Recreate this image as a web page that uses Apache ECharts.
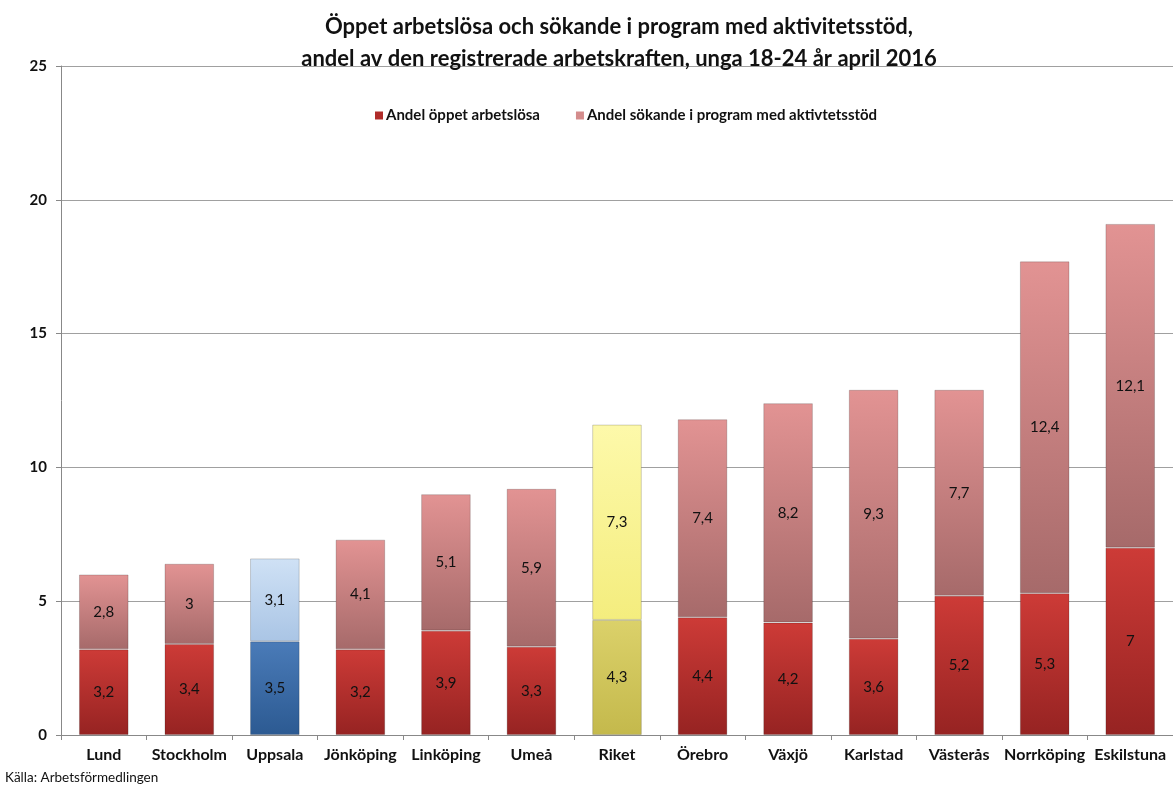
<!DOCTYPE html>
<html><head><meta charset="utf-8">
<script src="https://cdn.jsdelivr.net/npm/echarts@6/dist/echarts.min.js"></script>
<style>html,body{margin:0;padding:0;background:#fff}#c{width:1173px;height:789px}</style>
</head><body><div id="c"></div>
<script>
const categories = ['Lund','Stockholm','Uppsala','Jönköping','Linköping','Umeå','Riket','Örebro','Växjö','Karlstad','Västerås','Norrköping','Eskilstuna'];
const oppetArbetslosa = [3.2,3.4,3.5,3.2,3.9,3.3,4.3,4.4,4.2,3.6,5.2,5.3,7];
const sokandeProgram = [2.8,3,3.1,4.1,5.1,5.9,7.3,7.4,8.2,9.3,7.7,12.4,12.1];
const yTicks = [0,5,10,15,20,25];
const seriesNames = ['Andel öppet arbetslösa','Andel sökande i program med aktivtetsstöd'];
const titleLines = ['Öppet arbetslösa och sökande i program med aktivitetsstöd,','andel av den registrerade arbetskraften, unga 18-24 år april 2016'];
const sourceText = 'Källa: Arbetsförmedlingen';

const FONT = 'Lato, "Open Sans", sans-serif';
const grad = (a,b) => new echarts.graphic.LinearGradient(0,0,0,1,[{offset:0,color:a},{offset:1,color:b}]);
const palette = {
  base: [grad('#cd3b37','#962322'), grad('#e29393','#a66a6a')],
  Uppsala: [grad('#4a7bb8','#2c5a92'), grad('#cfe1f5','#aac5e5')],
  Riket: [grad('#dbd16a','#c4b94c'), grad('#fdf9aa','#f4ed7e')]
};
function buildData(vals, idx){
  return vals.map((v,i)=>{
    const p = palette[categories[i]] || palette.base;
    return {value:v, itemStyle:{color:p[idx], borderColor:'rgba(0,0,0,0.18)', borderWidth:1}};
  });
}
const fmt = p => String(p.value).replace('.',',');
const chart = echarts.init(document.getElementById('c'));
chart.setOption({
  animation:false,
  title:{text:titleLines.join('\n'),left:614,top:6,textAlign:'center',
    textStyle:{fontFamily:FONT,fontSize:22,fontWeight:'bold',color:'#111',lineHeight:32}},
  legend:{top:103,left:370,itemWidth:8,itemHeight:8,itemGap:36,icon:'rect',
    textStyle:{fontFamily:FONT,fontSize:15,fontWeight:'bold',color:'#111',padding:[0,0,0,-2]},
    data:[{name:seriesNames[0],itemStyle:{color:'#b02c2a'}},{name:seriesNames[1],itemStyle:{color:'#d48c8c'}}]},
  graphic:[{type:'text',left:5,top:771,style:{text:sourceText,font:'13.5px '+FONT,fill:'#111'}}],
  grid:{left:61,top:66,width:1118,bottom:54,containLabel:false},
  xAxis:{type:'category',data:categories,
    axisLine:{lineStyle:{color:'#888'}},
    axisTick:{show:true,length:5,lineStyle:{color:'#888'}},
    axisLabel:{fontFamily:FONT,fontSize:16,fontWeight:'bold',color:'#111',margin:12,interval:0}},
  yAxis:{type:'value',min:0,max:25,interval:5,
    axisLine:{show:true,lineStyle:{color:'#888'}},
    axisTick:{show:true,length:5,lineStyle:{color:'#888'}},
    splitLine:{lineStyle:{color:'#a0a0a0'}},
    axisLabel:{fontFamily:FONT,fontSize:15,fontWeight:'bold',color:'#111',margin:14,
      formatter:v=>yTicks.includes(v)?String(v):''}},
  series:[
    {name:seriesNames[0],type:'bar',stack:'a',barWidth:'58%',data:buildData(oppetArbetslosa,0),
      label:{show:true,position:'inside',formatter:fmt,fontFamily:FONT,fontSize:15,color:'#111'}},
    {name:seriesNames[1],type:'bar',stack:'a',barWidth:'58%',data:buildData(sokandeProgram,1),
      label:{show:true,position:'inside',formatter:fmt,fontFamily:FONT,fontSize:15,color:'#111'}}
  ]
});
</script></body></html>
